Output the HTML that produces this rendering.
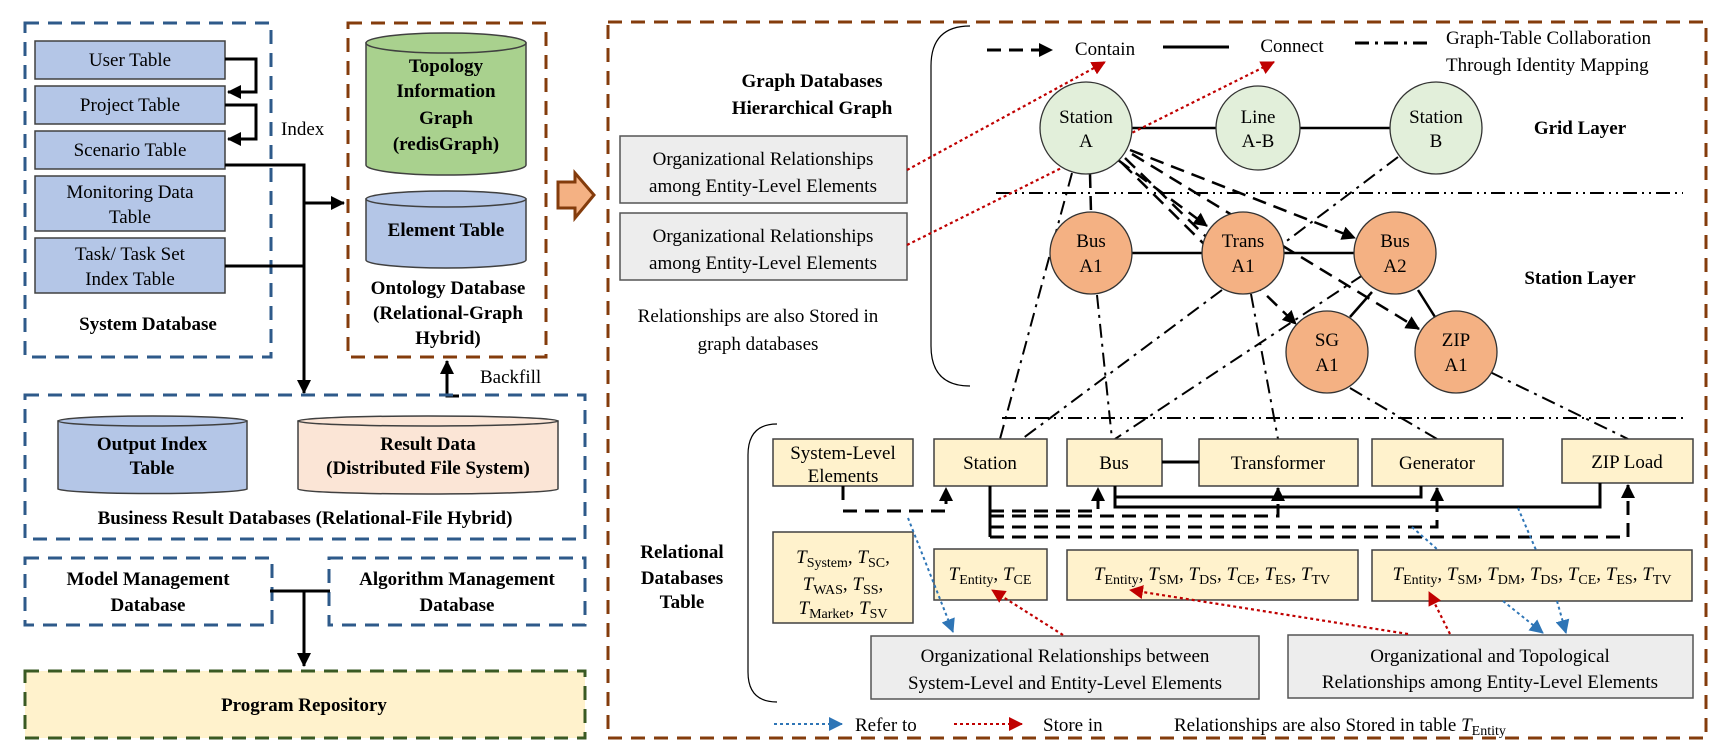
<!DOCTYPE html>
<html><head><meta charset="utf-8"><style>
html,body{margin:0;padding:0;background:#fff;}
svg{display:block;font-family:"Liberation Serif",serif;}
.t{font-size:19px;fill:#000;}
.b{font-size:19px;font-weight:bold;fill:#000;}
</style></head><body>
<svg width="1725" height="750" viewBox="0 0 1725 750" xmlns="http://www.w3.org/2000/svg">
<defs>
<marker id="ab" markerWidth="10" markerHeight="10" refX="9" refY="5" orient="auto" markerUnits="userSpaceOnUse"><path d="M0,0 L10,5 L0,10 Z" fill="#000"/></marker>
<marker id="abig" markerWidth="14" markerHeight="14" refX="13" refY="7" orient="auto" markerUnits="userSpaceOnUse"><path d="M0,0 L14,7 L0,14 Z" fill="#000"/></marker>
<marker id="ar" markerWidth="14" markerHeight="14" refX="13" refY="7" orient="auto" markerUnits="userSpaceOnUse"><path d="M0,0 L14,7 L0,14 Z" fill="#c00000"/></marker>
<marker id="abl" markerWidth="14" markerHeight="14" refX="13" refY="7" orient="auto" markerUnits="userSpaceOnUse"><path d="M0,0 L14,7 L0,14 Z" fill="#2e75b6"/></marker>
</defs>

<!-- LEFT: System Database -->
<rect x="25" y="23" width="246" height="334" fill="none" stroke="#2e5a8a" stroke-width="3" stroke-dasharray="14 9"/>
<g fill="#b4c6e7" stroke="#404040" stroke-width="1.5">
<rect x="35" y="41" width="190" height="38"/>
<rect x="35" y="86" width="190" height="38"/>
<rect x="35" y="131" width="190" height="38"/>
<rect x="35" y="176" width="190" height="55"/>
<rect x="35" y="238" width="190" height="55"/>
</g>
<g class="t" text-anchor="middle">
<text x="130" y="66">User Table</text>
<text x="130" y="111">Project Table</text>
<text x="130" y="156">Scenario Table</text>
<text x="130" y="198">Monitoring Data</text>
<text x="130" y="223">Table</text>
<text x="130" y="260">Task/ Task Set</text>
<text x="130" y="285">Index Table</text>
</g>
<text class="b" x="148" y="330" text-anchor="middle">System Database</text>
<g fill="none" stroke="#000" stroke-width="3">
<path d="M225,59 H256 V92 H228" marker-end="url(#abig)"/>
<path d="M225,105 H256 V139 H228" marker-end="url(#abig)"/>
<path d="M225,165 H304 V393" marker-end="url(#abig)"/>
<path d="M304,203 H344" marker-end="url(#abig)"/>
<path d="M225,266 H304"/>
</g>
<text class="t" x="281" y="135">Index</text>

<!-- Ontology -->
<rect x="348" y="23" width="198" height="334" fill="none" stroke="#843c0c" stroke-width="3" stroke-dasharray="14 9"/>
<path d="M366,43 V165 A80,10 0 0 0 526,165 V43 Z" fill="#a9d18e" stroke="#404040" stroke-width="1.5"/>
<ellipse cx="446" cy="43" rx="80" ry="10" fill="#a9d18e" stroke="#404040" stroke-width="1.5"/>
<g class="b" text-anchor="middle">
<text x="446" y="72">Topology</text>
<text x="446" y="97">Information</text>
<text x="446" y="124">Graph</text>
<text x="446" y="150">(redisGraph)</text>
</g>
<path d="M366,199 V260 A80,8 0 0 0 526,260 V199 Z" fill="#b4c6e7" stroke="#404040" stroke-width="1.5"/>
<ellipse cx="446" cy="199" rx="80" ry="8" fill="#b4c6e7" stroke="#404040" stroke-width="1.5"/>
<text class="b" x="446" y="236" text-anchor="middle">Element Table</text>
<g class="b" text-anchor="middle">
<text x="448" y="294">Ontology Database</text>
<text x="448" y="319">(Relational-Graph</text>
<text x="448" y="344">Hybrid)</text>
</g>
<path d="M459,396 H447 V361" fill="none" stroke="#000" stroke-width="3" marker-end="url(#abig)"/>
<text class="t" x="480" y="383">Backfill</text>

<!-- Business result -->
<rect x="25" y="395" width="560" height="144" fill="none" stroke="#2e5a8a" stroke-width="3" stroke-dasharray="14 9"/>
<path d="M58,421 V489 A95,5 0 0 0 247,489 V421 Z" fill="#b4c6e7" stroke="#404040" stroke-width="1.5"/>
<ellipse cx="152.5" cy="421" rx="94.5" ry="5" fill="#b4c6e7" stroke="#404040" stroke-width="1.5"/>
<path d="M298,421 V489 A130,5 0 0 0 558,489 V421 Z" fill="#fbe5d6" stroke="#404040" stroke-width="1.5"/>
<ellipse cx="428" cy="421" rx="130" ry="5" fill="#fbe5d6" stroke="#404040" stroke-width="1.5"/>
<g class="b" text-anchor="middle">
<text x="152" y="450">Output Index</text>
<text x="152" y="474">Table</text>
<text x="428" y="450">Result Data</text>
<text x="428" y="474">(Distributed File System)</text>
<text x="305" y="524">Business Result Databases (Relational-File Hybrid)</text>
</g>

<!-- Model/Algorithm -->
<rect x="25" y="558" width="247" height="67" fill="none" stroke="#2e5a8a" stroke-width="3" stroke-dasharray="14 9"/>
<rect x="329" y="558" width="256" height="67" fill="none" stroke="#2e5a8a" stroke-width="3" stroke-dasharray="14 9"/>
<g class="b" text-anchor="middle">
<text x="148" y="585">Model Management</text>
<text x="148" y="611">Database</text>
<text x="457" y="585">Algorithm Management</text>
<text x="457" y="611">Database</text>
</g>
<path d="M270,591 H330 M304,591 V666" fill="none" stroke="#000" stroke-width="3" marker-end="url(#abig)"/>
<rect x="25" y="671" width="560" height="67" fill="#fff2cc" stroke="#3a5a23" stroke-width="3" stroke-dasharray="14 9"/>
<text class="b" x="304" y="711" text-anchor="middle">Program Repository</text>

<!-- Big arrow -->
<polygon points="558,182 575,182 575,173 594,195 575,218 575,208 558,208" fill="#f4b183" stroke="#843c0c" stroke-width="3"/>

<!-- Right box -->
<rect x="608" y="22" width="1098" height="716" fill="none" stroke="#843c0c" stroke-width="3" stroke-dasharray="14 9"/>
<g class="b" text-anchor="middle">
<text x="812" y="87">Graph Databases</text>
<text x="812" y="114">Hierarchical Graph</text>
</g>
<rect x="620" y="136" width="287" height="67" fill="#ededed" stroke="#555" stroke-width="1.5"/>
<rect x="620" y="213" width="287" height="67" fill="#ededed" stroke="#555" stroke-width="1.5"/>
<g class="t" text-anchor="middle">
<text x="763" y="165">Organizational Relationships</text>
<text x="763" y="192">among Entity-Level Elements</text>
<text x="763" y="242">Organizational Relationships</text>
<text x="763" y="269">among Entity-Level Elements</text>
<text x="758" y="322">Relationships are also Stored in</text>
<text x="758" y="350">graph databases</text>
</g>
<path d="M970,26 Q931,26 931,66 V346 Q931,386 970,386" fill="none" stroke="#000" stroke-width="1.2"/>

<!-- legend top -->
<line x1="987" y1="50" x2="1052" y2="50" stroke="#000" stroke-width="3" stroke-dasharray="14 8" marker-end="url(#abig)"/>
<text class="t" x="1105" y="55" text-anchor="middle">Contain</text>
<line x1="1163" y1="47" x2="1229" y2="47" stroke="#000" stroke-width="3"/>
<text class="t" x="1292" y="52" text-anchor="middle">Connect</text>
<line x1="1355" y1="43" x2="1432" y2="43" stroke="#000" stroke-width="3" stroke-dasharray="14 6 3 6"/>
<text class="t" x="1446" y="44">Graph-Table Collaboration</text>
<text class="t" x="1446" y="71">Through Identity Mapping</text>

<!-- dividers -->
<line x1="996" y1="193" x2="1683" y2="193" stroke="#000" stroke-width="2" stroke-dasharray="14 5 2 5 2 5"/>
<line x1="1002" y1="418" x2="1683" y2="418" stroke="#000" stroke-width="2" stroke-dasharray="14 5 2 5 2 5"/>
<text class="b" x="1580" y="134" text-anchor="middle">Grid Layer</text>
<text class="b" x="1580" y="284" text-anchor="middle">Station Layer</text>

<!-- dash-dot graph-table lines -->
<g fill="none" stroke="#000" stroke-width="2" stroke-dasharray="14 6 3 6">
<line x1="1072" y1="173" x2="1000" y2="439"/>
<line x1="1398" y1="157" x2="1284" y2="243"/>
<line x1="1222" y1="290" x2="1022" y2="439"/>
<line x1="1097" y1="295" x2="1112" y2="439"/>
<line x1="1363" y1="275" x2="1115" y2="439"/>
<line x1="1251" y1="294" x2="1278" y2="439"/>
<line x1="1350" y1="388" x2="1437" y2="439"/>
<line x1="1490" y1="372" x2="1628" y2="439"/>
</g>
<!-- dashed contain -->
<g fill="none" stroke="#000" stroke-width="2.5" stroke-dasharray="14 8">
<line x1="1090" y1="174" x2="1091" y2="212"/>
<line x1="1118" y1="160" x2="1207" y2="226" marker-end="url(#abig)"/>
<line x1="1122" y1="163" x2="1205" y2="245"/>
<line x1="1125" y1="158" x2="1296" y2="324" marker-end="url(#abig)"/>
<line x1="1130" y1="150" x2="1355" y2="238" marker-end="url(#abig)"/>
<line x1="1132" y1="154" x2="1419" y2="329" marker-end="url(#abig)"/>
</g>
<!-- solid connects -->
<g stroke="#000" stroke-width="2.5">
<line x1="1132" y1="128" x2="1216" y2="128"/>
<line x1="1300" y1="128" x2="1390" y2="128"/>
<line x1="1132" y1="253" x2="1202" y2="253"/>
<line x1="1284" y1="253" x2="1354" y2="253"/>
<line x1="1372" y1="292" x2="1350" y2="317"/>
<line x1="1418" y1="290" x2="1435" y2="317"/>
</g>
<!-- red dotted -->
<g fill="none" stroke="#c00000" stroke-width="2.2" stroke-dasharray="3 3">
<line x1="907" y1="170" x2="1105" y2="62" marker-end="url(#ar)"/>
<line x1="907" y1="245" x2="1274" y2="62" marker-end="url(#ar)"/>
</g>
<!-- circles -->
<g stroke="#333" stroke-width="1.3">
<circle cx="1086" cy="128" r="46" fill="#e2efda"/>
<circle cx="1258" cy="128" r="42" fill="#e2efda"/>
<circle cx="1436" cy="128" r="46" fill="#e2efda"/>
<circle cx="1091" cy="253" r="41" fill="#f4b183"/>
<circle cx="1243" cy="253" r="41" fill="#f4b183"/>
<circle cx="1395" cy="253" r="41" fill="#f4b183"/>
<circle cx="1327" cy="352" r="41" fill="#f4b183"/>
<circle cx="1456" cy="352" r="41" fill="#f4b183"/>
</g>
<g class="t" text-anchor="middle">
<text x="1086" y="123">Station</text><text x="1086" y="147">A</text>
<text x="1258" y="123">Line</text><text x="1258" y="147">A-B</text>
<text x="1436" y="123">Station</text><text x="1436" y="147">B</text>
<text x="1091" y="247">Bus</text><text x="1091" y="272">A1</text>
<text x="1243" y="247">Trans</text><text x="1243" y="272">A1</text>
<text x="1395" y="247">Bus</text><text x="1395" y="272">A2</text>
<text x="1327" y="346">SG</text><text x="1327" y="371">A1</text>
<text x="1456" y="346">ZIP</text><text x="1456" y="371">A1</text>
</g>

<!-- Relational section -->
<g class="b" text-anchor="middle">
<text x="682" y="558">Relational</text>
<text x="682" y="584">Databases</text>
<text x="682" y="608">Table</text>
</g>
<path d="M777,424 Q748,424 748,455 V672 Q748,702 777,702" fill="none" stroke="#000" stroke-width="1.2"/>
<g fill="#fff2cc" stroke="#404040" stroke-width="1.5">
<rect x="773" y="439" width="140" height="47"/>
<rect x="934" y="439" width="113" height="47"/>
<rect x="1067" y="439" width="95" height="47"/>
<rect x="1199" y="439" width="159" height="47"/>
<rect x="1372" y="439" width="131" height="47"/>
<rect x="1562" y="439" width="131" height="44"/>
<rect x="773" y="532" width="140" height="91"/>
<rect x="934" y="549" width="113" height="51"/>
<rect x="1067" y="550" width="291" height="50"/>
<rect x="1372" y="550" width="320" height="51"/>
</g>
<g class="t" text-anchor="middle">
<text x="843" y="459">System-Level</text>
<text x="843" y="482">Elements</text>
<text x="990" y="469">Station</text>
<text x="1114" y="469">Bus</text>
<text x="1278" y="469">Transformer</text>
<text x="1437" y="469">Generator</text>
<text x="1627" y="468">ZIP Load</text>
</g>
<line x1="1162" y1="462" x2="1199" y2="462" stroke="#000" stroke-width="3"/>
<!-- T labels -->
<g class="t" text-anchor="middle" font-size="20">
<text x="843" y="563"><tspan font-style="italic">T</tspan><tspan font-size="14" dy="4">System</tspan><tspan dy="-4">, </tspan><tspan font-style="italic">T</tspan><tspan font-size="14" dy="4">SC</tspan><tspan dy="-4">,</tspan></text>
<text x="843" y="590"><tspan font-style="italic">T</tspan><tspan font-size="14" dy="4">WAS</tspan><tspan dy="-4">, </tspan><tspan font-style="italic">T</tspan><tspan font-size="14" dy="4">SS</tspan><tspan dy="-4">,</tspan></text>
<text x="843" y="614"><tspan font-style="italic">T</tspan><tspan font-size="14" dy="4">Market</tspan><tspan dy="-4">, </tspan><tspan font-style="italic">T</tspan><tspan font-size="14" dy="4">SV</tspan></text>
<text x="990" y="580"><tspan font-style="italic">T</tspan><tspan font-size="14" dy="4">Entity</tspan><tspan dy="-4">, </tspan><tspan font-style="italic">T</tspan><tspan font-size="14" dy="4">CE</tspan></text>
<text x="1212" y="580"><tspan font-style="italic">T</tspan><tspan font-size="14" dy="4">Entity</tspan><tspan dy="-4">, </tspan><tspan font-style="italic">T</tspan><tspan font-size="14" dy="4">SM</tspan><tspan dy="-4">, </tspan><tspan font-style="italic">T</tspan><tspan font-size="14" dy="4">DS</tspan><tspan dy="-4">, </tspan><tspan font-style="italic">T</tspan><tspan font-size="14" dy="4">CE</tspan><tspan dy="-4">, </tspan><tspan font-style="italic">T</tspan><tspan font-size="14" dy="4">ES</tspan><tspan dy="-4">, </tspan><tspan font-style="italic">T</tspan><tspan font-size="14" dy="4">TV</tspan></text>
<text x="1532" y="580"><tspan font-style="italic">T</tspan><tspan font-size="14" dy="4">Entity</tspan><tspan dy="-4">, </tspan><tspan font-style="italic">T</tspan><tspan font-size="14" dy="4">SM</tspan><tspan dy="-4">, </tspan><tspan font-style="italic">T</tspan><tspan font-size="14" dy="4">DM</tspan><tspan dy="-4">, </tspan><tspan font-style="italic">T</tspan><tspan font-size="14" dy="4">DS</tspan><tspan dy="-4">, </tspan><tspan font-style="italic">T</tspan><tspan font-size="14" dy="4">CE</tspan><tspan dy="-4">, </tspan><tspan font-style="italic">T</tspan><tspan font-size="14" dy="4">ES</tspan><tspan dy="-4">, </tspan><tspan font-style="italic">T</tspan><tspan font-size="14" dy="4">TV</tspan></text>
</g>

<!-- table connectors -->
<g fill="none" stroke="#000" stroke-width="3">
<path d="M843,486 V500"/>
<path d="M990,486 V537"/>
<path d="M1115,486 V507 H1600 V483"/>
<path d="M1115,497 H1421 V486"/>
</g>
<g fill="none" stroke="#000" stroke-width="3" stroke-dasharray="14 8">
<path d="M843,511 H946 V488" marker-end="url(#abig)"/>
<path d="M990,511 H1098 V488" marker-end="url(#abig)"/>
<path d="M990,516 H1278 V488" marker-end="url(#abig)"/>
<path d="M990,527 H1437 V488" marker-end="url(#abig)"/>
<path d="M990,537 H1628 V485" marker-end="url(#abig)"/>
</g>

<!-- gray boxes bottom -->
<rect x="871" y="636" width="388" height="63" fill="#ededed" stroke="#555" stroke-width="1.5"/>
<rect x="1288" y="635" width="405" height="63" fill="#ededed" stroke="#555" stroke-width="1.5"/>
<g class="t" text-anchor="middle">
<text x="1065" y="662">Organizational Relationships between</text>
<text x="1065" y="689">System-Level and Entity-Level Elements</text>
<text x="1490" y="662">Organizational and Topological</text>
<text x="1490" y="688">Relationships among Entity-Level Elements</text>
</g>
<!-- blue dotted -->
<g fill="none" stroke="#2e75b6" stroke-width="2" stroke-dasharray="3 3">
<line x1="908" y1="518" x2="953" y2="632" marker-end="url(#abl)"/>
<line x1="1412" y1="527" x2="1438" y2="550"/>
<line x1="1503" y1="601" x2="1543" y2="633" marker-end="url(#abl)"/>
<line x1="1518" y1="508" x2="1536" y2="550"/>
<line x1="1557" y1="601" x2="1566" y2="633" marker-end="url(#abl)"/>
</g>
<!-- red dotted bottom -->
<g fill="none" stroke="#c00000" stroke-width="2.2" stroke-dasharray="3 3">
<line x1="1063" y1="635" x2="992" y2="590" marker-end="url(#ar)"/>
<line x1="1408" y1="634" x2="1130" y2="590" marker-end="url(#ar)"/>
<line x1="1450" y1="634" x2="1429" y2="592" marker-end="url(#ar)"/>
</g>
<!-- bottom legend -->
<line x1="774" y1="724" x2="842" y2="724" stroke="#2e75b6" stroke-width="2" stroke-dasharray="3 3" marker-end="url(#abl)"/>
<text class="t" x="855" y="731">Refer to</text>
<line x1="954" y1="724" x2="1022" y2="724" stroke="#c00000" stroke-width="2" stroke-dasharray="3 3" marker-end="url(#ar)"/>
<text class="t" x="1043" y="731">Store in</text>
<text class="t" x="1174" y="731">Relationships are also Stored in table <tspan font-style="italic">T</tspan><tspan font-size="14" dy="4">Entity</tspan></text>
</svg>
</body></html>
